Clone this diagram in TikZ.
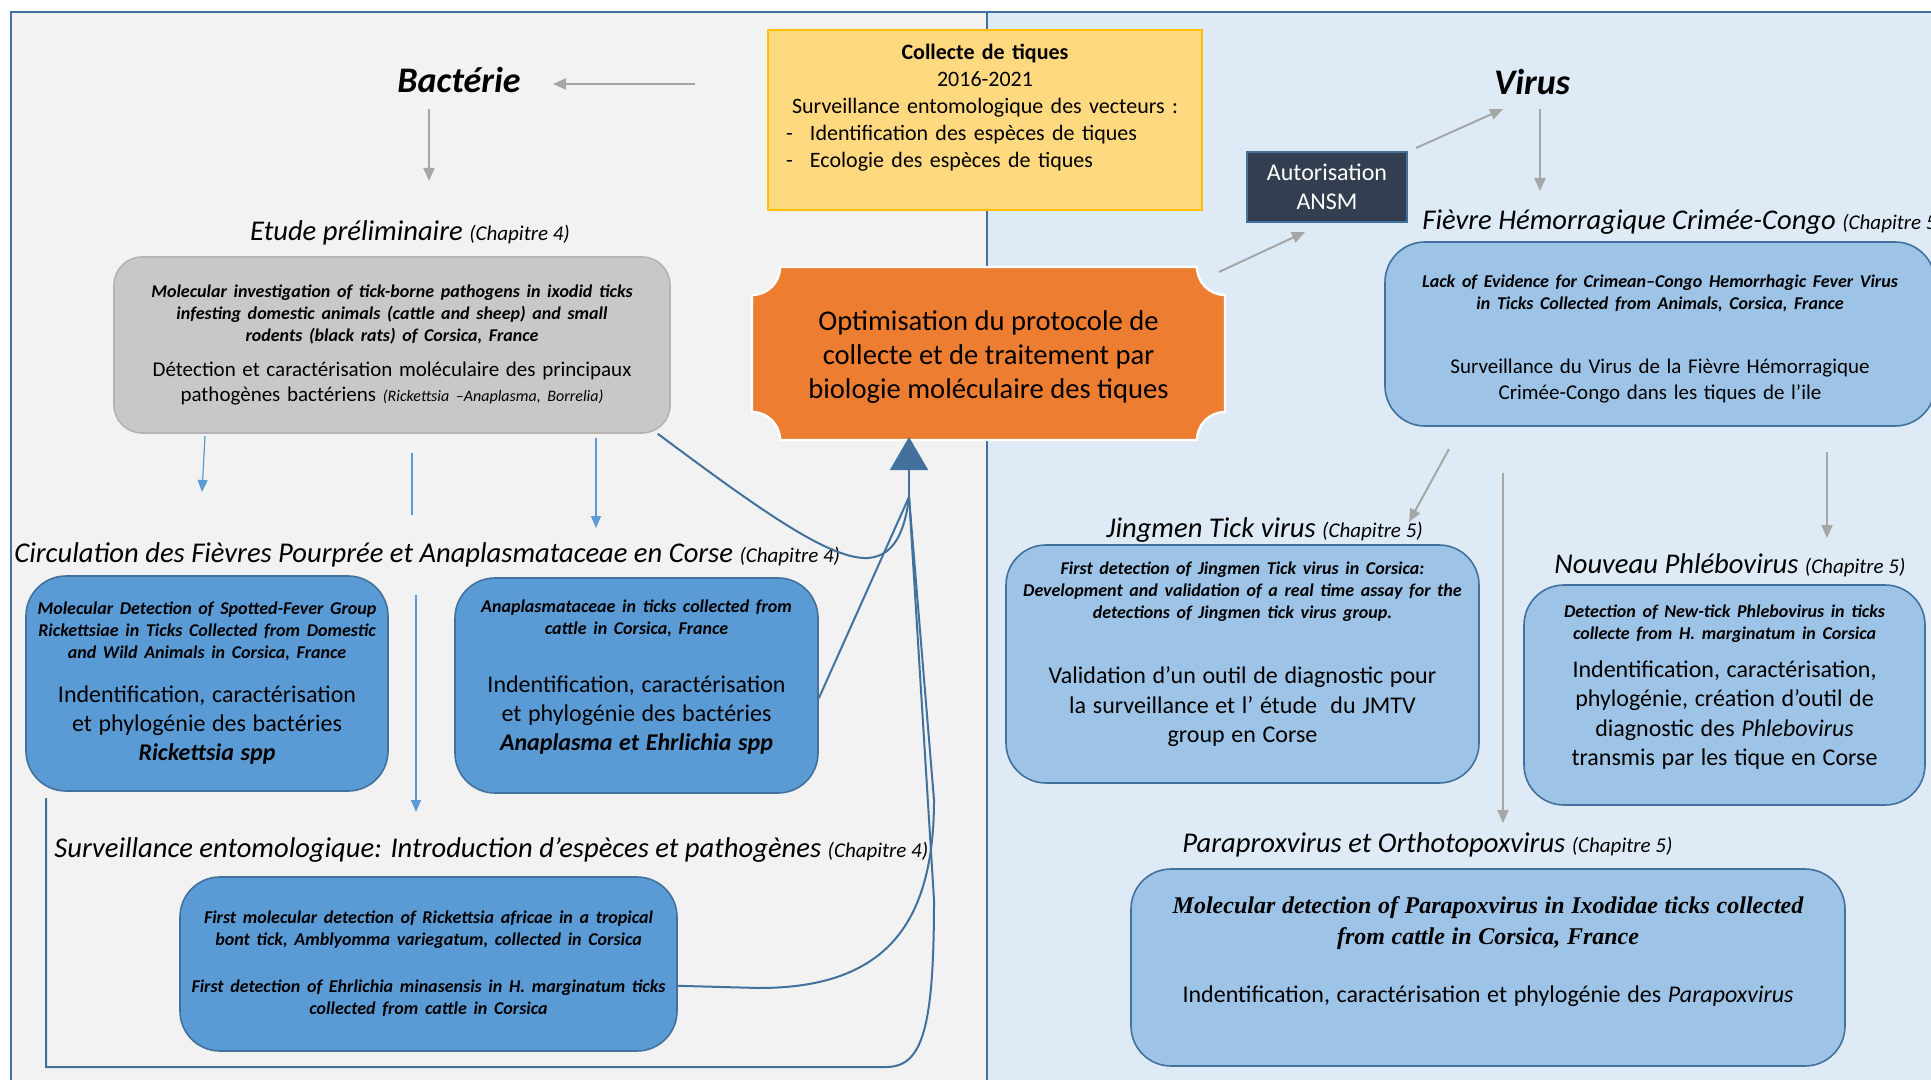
\documentclass[tikz,border=0pt]{standalone}
\usepackage{fontspec}
\setmainfont{Carlito}
\newfontfamily\timesfont{Liberation Serif}
\usetikzlibrary{arrows.meta}
\setlength{\parindent}{0pt}

\definecolor{fondgauche}{HTML}{F2F2F2}
\definecolor{fonddroit}{HTML}{DEEBF7}
\definecolor{cadre}{HTML}{41719C}
\definecolor{bleufonce}{HTML}{5B9BD5}
\definecolor{bleuclair}{HTML}{9DC3E6}
\definecolor{orangeopt}{HTML}{ED7D31}
\definecolor{jaune}{HTML}{FFD97F}
\definecolor{bordjaune}{HTML}{FFC000}
\definecolor{grisboite}{HTML}{C8C8C8}
\definecolor{grisbord}{HTML}{B4B4B4}
\definecolor{grisfleche}{HTML}{A6A6A6}
\definecolor{ardoise}{HTML}{333F50}

\newcommand{\titreref}{\fontsize{9}{11}\selectfont\bfseries\itshape}
\newcommand{\petitchap}[1]{{\fontsize{10.5}{12}\selectfont #1}}
\newcommand{\basvide}[1]{\par\vspace{#1}\nointerlineskip\hbox{}}

\begin{document}
\begin{tikzpicture}[x=0.5pt,y=-0.5pt]
	\tikzstyle{every node}+=[inner sep=0pt]
	\tikzstyle{boite}=[draw=cadre, line width=0.8pt, rounded corners=20pt, align=center]
	\tikzstyle{titre}=[font=\fontsize{14.3}{17}\selectfont\itshape, anchor=west]
	\tikzstyle{gros}=[font=\fontsize{18}{22}\selectfont\bfseries\itshape]
	\tikzstyle{gris}=[grisfleche, line width=1pt, -{Triangle[width=5.5pt,length=6.5pt]}]
	\tikzstyle{bleu}=[bleufonce, line width=0.6pt, -{Triangle[width=5pt,length=6pt]}]
	\tikzstyle{lien}=[cadre, line width=1pt]
	\useasboundingbox (0,0) rectangle (1931,1080);
	\clip (0,0) rectangle (1931,1080);
	% fonds
	\fill [white] (0,0) rectangle (1931,1080);
	\fill [fondgauche] (11,12) rectangle (987,1100);
	\fill [fonddroit] (987,12) rectangle (1950,1100);
	\draw [cadre, line width=0.8pt] (11,1100) -- (11,12) -- (1950,12);
	\draw [cadre, line width=0.8pt] (987,12) -- (987,1100);
	% titres
	\node [gros] (bact) at (459,80) {Bactérie};
	\node [gros] (virus) at (1532,82) {Virus};
	\node [titre, anchor=center] (etude) at (410,233) {Etude préliminaire \petitchap{(Chapitre 4)}};
	\node [titre] (circ) at (14,555) {Circulation des Fièvres Pourprée et Anaplasmataceae en Corse \petitchap{(Chapitre 4)}};
	\node [titre] (entomo) at (54,850) {Surveillance entomologique: Introduction d’espèces et pathogènes \petitchap{(Chapitre 4)}};
	\node [titre] (fhcc) at (1422,222) {Fièvre Hémorragique Crimée-Congo \petitchap{(Chapitre 5)}};
	\node [titre] (jmtv) at (1106,530) {Jingmen Tick virus \petitchap{(Chapitre 5)}};
	\node [titre] (nouveau) at (1554,565) {Nouveau Phlébovirus \petitchap{(Chapitre 5)}};
	\node [titre] (parapox) at (1182,845) {Paraproxvirus et Orthotopoxvirus \petitchap{(Chapitre 5)}};
	% collecte
	\node [draw=bordjaune, line width=0.8pt, fill=jaune, minimum width=217pt, minimum height=90pt, text width=213pt, align=center, font=\fontsize{11}{13.5}\selectfont] (collecte) at (985,120)
		{\textbf{Collecte de tiques}\\ 2016-2021\\ Surveillance entomologique des vecteurs :\par
		\raggedright\hspace*{7pt}\makebox[12pt][l]{-}Identification des espèces de tiques\\
		\hspace*{7pt}\makebox[12pt][l]{-}Ecologie des espèces de tiques\basvide{12pt}};
	% optimisation
	\fill [orangeopt, draw=white, line width=1.2pt] (780,267) -- (1197,267) arc[start angle=180, end angle=90, radius=28] -- (1225,412) arc[start angle=270, end angle=180, radius=28] -- (780,440) arc[start angle=0, end angle=-90, radius=28] -- (752,295) arc[start angle=90, end angle=0, radius=28] -- cycle;
	\node [align=center, font=\fontsize{14.3}{17}\selectfont, minimum width=236.5pt, minimum height=86.5pt] (optim) at (988.5,357)
		{Optimisation du protocole de\\ collecte et de traitement par\\ biologie moléculaire des tiques};
	\node [draw=cadre, line width=0.8pt, fill=ardoise, text=white, minimum width=80pt, minimum height=35pt, align=center, font=\fontsize{12}{14.5}\selectfont] (ansm) at (1327,187) {Autorisation\\ ANSM};
	% bacteries
	\node [boite, fill=grisboite, draw=grisbord, rounded corners=14pt, minimum width=278pt, minimum height=88pt, text width=272pt] (prelim) at (392,345)
		{{\titreref Molecular investigation of tick-borne pathogens in ixodid ticks\\ infesting domestic animals (cattle and sheep) and small\\ rodents (black rats) of Corsica, France\par}
		\vspace{5pt}
		{\fontsize{10.5}{12.5}\selectfont Détection et caractérisation moléculaire des principaux\\ pathogènes bactériens {\fontsize{8}{9}\selectfont\itshape (Rickettsia –Anaplasma, Borrelia)}\par}};
	\node [boite, fill=bleufonce, minimum width=181pt, minimum height=107.5pt, text width=177pt] (ricket) at (207,683.5)
		{{\titreref Molecular Detection of Spotted-Fever Group\\ Rickettsiae in Ticks Collected from Domestic\\ and Wild Animals in Corsica, France\par}
		\vspace{7.5pt}
		{\fontsize{12}{14.5}\selectfont Indentification, caractérisation\\ et phylogénie des bactéries\\ \textbf{\textit{Rickettsia spp}}\par}};
	\node [boite, fill=bleufonce, minimum width=181.5pt, minimum height=107.5pt, text width=177pt] (anap) at (636.5,685.5)
		{{\titreref Anaplasmataceae in ticks collected from\\ cattle in Corsica, France\par}
		\vspace{14.5pt}
		{\fontsize{12}{14.5}\selectfont Indentification, caractérisation\\ et phylogénie des bactéries\\ \textbf{\textit{Anaplasma et Ehrlichia spp}}\par}\basvide{8.5pt}};
	\node [boite, fill=bleufonce, minimum width=248.5pt, minimum height=87pt, text width=244pt] (surv) at (428.5,964)
		{\titreref First molecular detection of Rickettsia africae in a tropical\\ bont tick, Amblyomma variegatum, collected in Corsica\\[12.5pt]
		First detection of Ehrlichia minasensis in H. marginatum ticks\\ collected from cattle in Corsica\par};
	% virus
	\node [boite, fill=bleuclair, minimum width=275pt, minimum height=92pt, text width=265pt] (cchf) at (1660,334)
		{{\titreref Lack of Evidence for Crimean–Congo Hemorrhagic Fever Virus\\ in Ticks Collected from Animals, Corsica, France\par}
		\vspace{19pt}
		{\fontsize{10.5}{13}\selectfont Surveillance du Virus de la Fièvre Hémorragique\\ Crimée-Congo dans les tiques de l’ile\par}\basvide{-5pt}};
	\node [boite, fill=bleuclair, minimum width=236.5pt, minimum height=119pt, text width=230pt] (jing) at (1242.5,664)
		{{\titreref First detection of Jingmen Tick virus in Corsica:\\ Development and validation of a real time assay for the\\ detections of Jingmen tick virus group.\par}
		\vspace{18pt}
		{\fontsize{12}{14.75}\selectfont Validation d’un outil de diagnostic pour\\ la surveillance et l’ étude~ du JMTV\\ group en Corse\par}\basvide{10pt}};
	\node [boite, fill=bleuclair, minimum width=200.5pt, minimum height=110pt, text width=196pt] (phleb) at (1724.5,695)
		{{\titreref Detection of New-tick Phlebovirus in ticks\\ collecte from H. marginatum in Corsica\par}
		\vspace{4pt}
		{\fontsize{12}{14.75}\selectfont Indentification, caractérisation,\\ phylogénie, création d’outil de\\ diagnostic des \textit{Phlebovirus}\\ transmis par les tique en Corse\par}\basvide{7.5pt}};
	\node [boite, fill=bleuclair, minimum width=357pt, minimum height=98.5pt, text width=350pt] (para) at (1488,967.5)
		{{\timesfont\fontsize{12}{15.5}\selectfont\bfseries\itshape Molecular detection of Parapoxvirus in Ixodidae ticks collected\\ from cattle in Corsica, France\par}
		\vspace{16pt}
		{\fontsize{12}{13}\selectfont Indentification, caractérisation et phylogénie des \textit{Parapoxvirus}\par}\basvide{16pt}};
	% fleches grises
	\coordinate (collecte-g) at (695,84);
	\coordinate (bact-d) at (553,84);
	\coordinate (bact-b) at (429,109);
	\coordinate (etude-h) at (429,181);
	\coordinate (optim-d) at (1219,272);
	\coordinate (ansm-g) at (1305,232);
	\coordinate (ansm-d) at (1416,148);
	\coordinate (virus-g) at (1503,109);
	\coordinate (virus-b) at (1540,109);
	\coordinate (fhcc-h) at (1540,191);
	\coordinate (cchf-b1) at (1449,449);
	\coordinate (jmtv-h) at (1409,522);
	\coordinate (cchf-b2) at (1503,473);
	\coordinate (parapox-h) at (1503,823);
	\coordinate (cchf-b3) at (1827,452);
	\coordinate (nouveau-h) at (1827,538);
	\draw [gris] (collecte-g) -- (bact-d);
	\draw [gris] (bact-b) -- (etude-h);
	\draw [gris] (optim-d) -- (ansm-g);
	\draw [gris] (ansm-d) -- (virus-g);
	\draw [gris] (virus-b) -- (fhcc-h);
	\draw [gris] (cchf-b1) -- (jmtv-h);
	\draw [gris] (cchf-b2) -- (parapox-h);
	\draw [gris] (cchf-b3) -- (nouveau-h);
	% fleches bleues
	\coordinate (prelim-b1) at (205,436);
	\coordinate (circ-h1) at (202,492);
	\coordinate (prelim-b2) at (412,453);
	\coordinate (circ-h2) at (412,515);
	\coordinate (prelim-b3) at (596,438);
	\coordinate (circ-h3) at (596,528);
	\coordinate (circ-b) at (416,595);
	\coordinate (entomo-h) at (416,812);
	\draw [bleu] (prelim-b1) -- (circ-h1);
	\draw [bleufonce, line width=0.6pt] (prelim-b2) -- (circ-h2);
	\draw [bleu] (prelim-b3) -- (circ-h3);
	\draw [bleu] (circ-b) -- (entomo-h);
	% retour vers l'optimisation
	\coordinate (pointe) at (909,437);
	\coordinate (jonction) at (909,497);
	\coordinate (boucle) at (46,798);
	\draw [lien] ([xshift=-6.5pt]prelim.south east) .. controls (760,510) and (830,560) .. (868,558) .. controls (895,556) and (905,530) .. (jonction);
	\draw [lien] (anap.-4) -- (jonction);
	\draw [lien] (surv.-5.5) -- (759,988) .. controls (880,988) and (934,930) .. (934,800) -- (jonction);
	\draw [lien] (boucle) -- (46,1067) -- (886,1067) .. controls (922,1067) and (934,1030) .. (934,900) -- (jonction);
	\draw [lien, -{Triangle[width=19pt,length=16.5pt]}] (jonction) -- (pointe);
\end{tikzpicture}
\end{document}
